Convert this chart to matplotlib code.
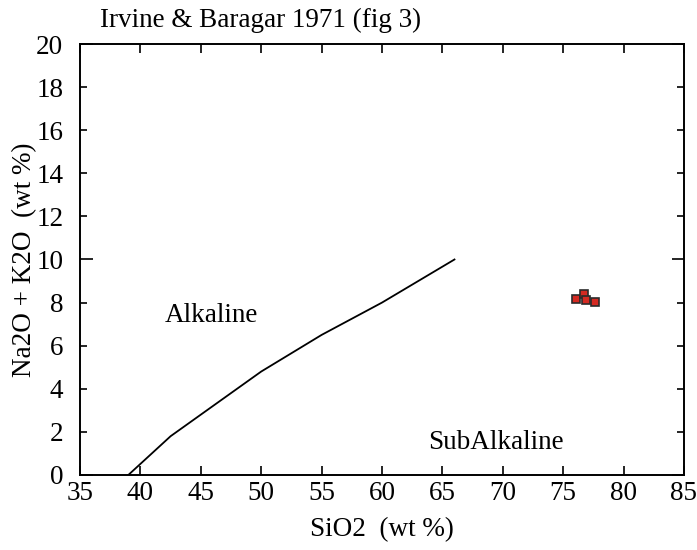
import matplotlib
matplotlib.use("Agg")
import matplotlib.pyplot as plt

plt.rcParams["font.family"] = ["Liberation Serif", "DejaVu Serif"]

# Irvine & Baragar alkaline / subalkaline divide
div_sio2 = [39.0, 42.5, 50.0, 55.0, 60.0, 66.0]
div_alk = [0.0, 1.8, 4.8, 6.5, 8.0, 10.0]

# samples
sio2 = [76.1, 76.7, 76.9, 77.6]
alk = [8.18, 8.39, 8.12, 8.03]

fs = 19.5

fig = plt.figure(figsize=(6.97, 5.5), dpi=100)
ax = fig.add_axes([0.1148, 0.1364, 0.8665, 0.7836])

ax.plot(div_sio2, div_alk, color="black", lw=1.3)
ax.plot(sio2, alk, "s", ms=6.2, mfc="#d42a22", mec="#2b2b2b", mew=1.2, ls="none")

ax.text(45.9, 7.4, "Alkaline", fontsize=fs, ha="center", va="center")
ax.text(69.4, 1.5, "SubAlkaline", fontsize=fs, ha="center", va="center")

ax.set_xlim(35, 85)
ax.set_ylim(0, 20)
ax.set_xticks(range(35, 86, 5))
ax.set_yticks([0, 10, 20])
ax.set_yticks([2, 4, 6, 8, 12, 14, 16, 18], minor=True)
ax.set_yticklabels(["0", "10", "20"])
ax.set_yticklabels(["2", "4", "6", "8", "12", "14", "16", "18"], minor=True)

ax.tick_params(which="both", direction="in", top=True, right=True,
               labelsize=fs, width=1.2)
ax.tick_params(axis="x", length=6.5, pad=4)
ax.tick_params(axis="y", which="major", length=9, pad=12)
ax.tick_params(axis="y", which="minor", length=5, pad=12)
for s in ax.spines.values():
    s.set_linewidth(1.4)

ax.set_xlabel("SiO2  (wt %)", fontsize=fs, labelpad=8)
ax.set_ylabel("Na2O + K2O  (wt %)", fontsize=fs, labelpad=-1)
fig.text(0.1435, 0.962, "Irvine & Baragar 1971 (fig 3)", fontsize=fs,
         ha="left", va="center")

fig.savefig("out.png", dpi=100)
